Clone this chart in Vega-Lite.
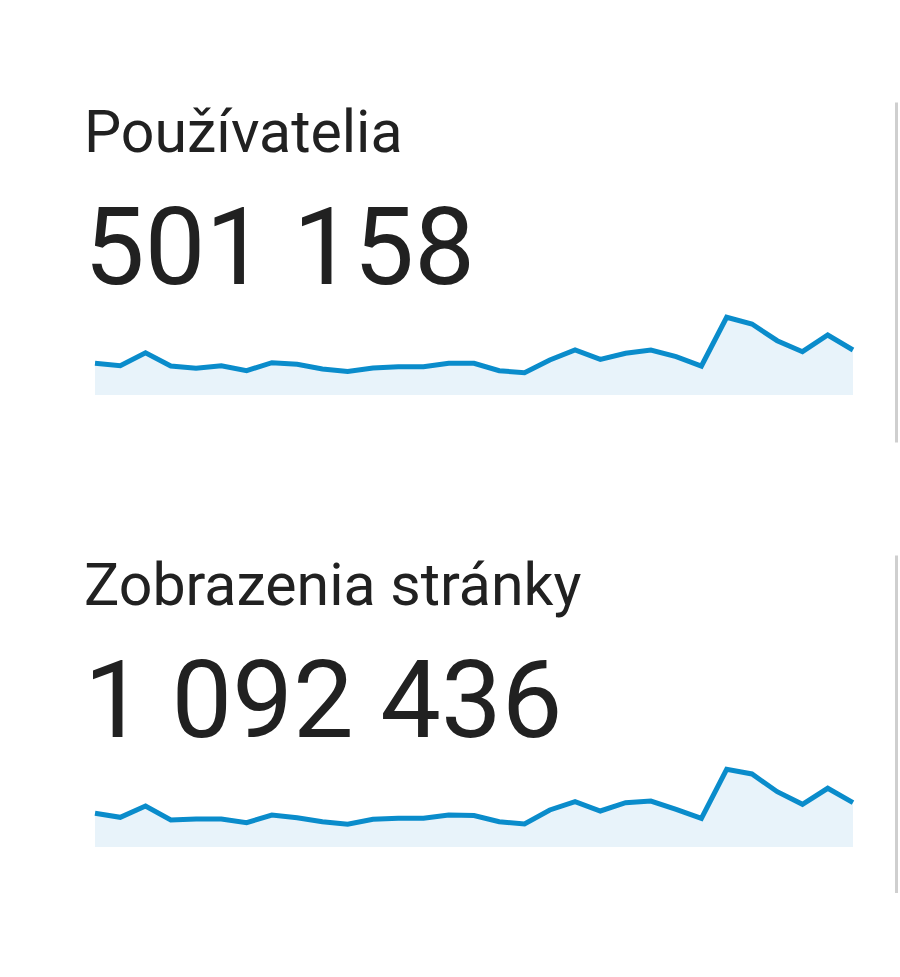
{
  "$schema": "https://vega.github.io/schema/vega-lite/v6.json",
  "background": "white",
  "padding": {"left": 84, "top": 102, "right": 3, "bottom": 0},
  "config": {
    "view": {"stroke": null},
    "font": "Roboto",
    "concat": {"spacing": 113}
  },
  "datasets": {
    "users": [
      {"day": 1, "value": 13950}, {"day": 2, "value": 12900}, {"day": 3, "value": 18600},
      {"day": 4, "value": 12750}, {"day": 5, "value": 11750}, {"day": 6, "value": 12900},
      {"day": 7, "value": 10700}, {"day": 8, "value": 14200}, {"day": 9, "value": 13500},
      {"day": 10, "value": 11450}, {"day": 11, "value": 10400}, {"day": 12, "value": 11900},
      {"day": 13, "value": 12450}, {"day": 14, "value": 12450}, {"day": 15, "value": 13950},
      {"day": 16, "value": 13950}, {"day": 17, "value": 10700}, {"day": 18, "value": 9800},
      {"day": 19, "value": 15400}, {"day": 20, "value": 19800}, {"day": 21, "value": 15700},
      {"day": 22, "value": 18350}, {"day": 23, "value": 19800}, {"day": 24, "value": 16850},
      {"day": 25, "value": 12750}, {"day": 26, "value": 34200}, {"day": 27, "value": 31250},
      {"day": 28, "value": 23900}, {"day": 29, "value": 19050}, {"day": 30, "value": 26400},
      {"day": 31, "value": 19800}
    ],
    "views": [
      {"day": 1, "value": 32300}, {"day": 2, "value": 28450}, {"day": 3, "value": 39300},
      {"day": 4, "value": 25850}, {"day": 5, "value": 26800}, {"day": 6, "value": 26800},
      {"day": 7, "value": 23300}, {"day": 8, "value": 30650}, {"day": 9, "value": 28050},
      {"day": 10, "value": 24250}, {"day": 11, "value": 21750}, {"day": 12, "value": 26550},
      {"day": 13, "value": 27500}, {"day": 14, "value": 27500}, {"day": 15, "value": 30650},
      {"day": 16, "value": 30200}, {"day": 17, "value": 24250}, {"day": 18, "value": 22050},
      {"day": 19, "value": 35450}, {"day": 20, "value": 43400}, {"day": 21, "value": 34500},
      {"day": 22, "value": 42450}, {"day": 23, "value": 44050}, {"day": 24, "value": 36100},
      {"day": 25, "value": 27500}, {"day": 26, "value": 74450}, {"day": 27, "value": 69950},
      {"day": 28, "value": 53000}, {"day": 29, "value": 40900}, {"day": 30, "value": 56250},
      {"day": 31, "value": 42450}
    ]
  },
  "vconcat": [
    {
      "width": 758,
      "height": 340,
      "data": {"name": "users"},
      "title": {
        "text": "Používatelia",
        "subtitle": "501 158",
        "anchor": "start",
        "frame": "group",
        "offset": -204,
        "dx": -11,
        "font": "Roboto",
        "fontSize": 59,
        "fontWeight": "normal",
        "color": "#212121",
        "subtitleFont": "Roboto",
        "subtitleFontSize": 108,
        "subtitleColor": "#212121",
        "subtitlePadding": 35
      },
      "encoding": {
        "x": {"field": "day", "type": "quantitative", "scale": {"domain": [1, 31], "nice": false, "zero": false}, "axis": null},
        "y": {
          "field": "value", "type": "quantitative",
          "scale": {"domain": [-20680, 128920], "nice": false, "zero": false},
          "axis": {"orient": "right", "offset": 43, "domainColor": "#cfcfcf", "domainWidth": 3, "ticks": false, "labels": false, "grid": false, "title": null}
        }
      },
      "layer": [
        {"mark": {"type": "area", "color": "#e8f3fa"}, "encoding": {"y2": {"datum": 0}}},
        {"mark": {"type": "line", "color": "#0a8ccb", "strokeWidth": 5}}
      ]
    },
    {
      "width": 758,
      "height": 338,
      "data": {"name": "views"},
      "title": {
        "text": "Zobrazenia stránky",
        "subtitle": "1 092 436",
        "anchor": "start",
        "frame": "group",
        "offset": -204,
        "dx": -11,
        "font": "Roboto",
        "fontSize": 59,
        "fontWeight": "normal",
        "color": "#212121",
        "subtitleFont": "Roboto",
        "subtitleFontSize": 108,
        "subtitleColor": "#212121",
        "subtitlePadding": 35
      },
      "encoding": {
        "x": {"field": "day", "type": "quantitative", "scale": {"domain": [1, 31], "nice": false, "zero": false}, "axis": null},
        "y": {
          "field": "value", "type": "quantitative",
          "scale": {"domain": [-44068, 279736], "nice": false, "zero": false},
          "axis": {"orient": "right", "offset": 43, "domainColor": "#cfcfcf", "domainWidth": 3, "ticks": false, "labels": false, "grid": false, "title": null}
        }
      },
      "layer": [
        {"mark": {"type": "area", "color": "#e8f3fa"}, "encoding": {"y2": {"datum": 0}}},
        {"mark": {"type": "line", "color": "#0a8ccb", "strokeWidth": 5}}
      ]
    }
  ]
}
